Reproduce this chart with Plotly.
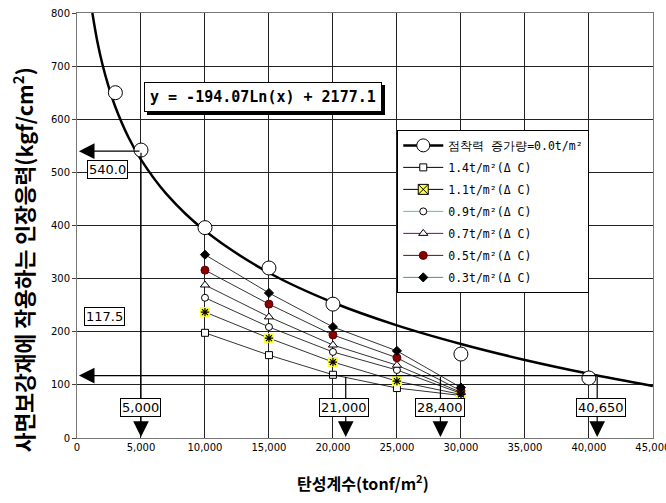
import plotly.graph_objects as go

# ---------------- data ----------------
x_series = [10000, 15000, 20000, 25000, 30000]
s14 = [198, 156, 119, 94, 80]
s11 = [237, 188, 143, 107, 82]
s09 = [264, 209, 162, 128, 84]
s07 = [288, 228, 175, 137, 86]
s05 = [316, 252, 194, 151, 89]
s03 = [345, 273, 209, 164, 95]

x0 = [3000, 5000, 10000, 15000, 20000, 30000, 40000]
y0 = [650, 542, 396, 320, 252, 158, 113]

# trendline
curve_x = [1200, 1600, 2000, 2500, 3000, 4000, 5000, 7000, 10000, 15000, 20000, 25000, 30000, 35000, 40000, 45000]
curve_y = [800, 745, 702, 659, 623, 567, 524, 459, 390, 311, 255, 212, 177, 147, 121, 98]

legend_names = ["점착력 증가량=0.0t/m²", "1.4t/m²(Δ C)", "1.1t/m²(Δ C)", "0.9t/m²(Δ C)",
                "0.7t/m²(Δ C)", "0.5t/m²(Δ C)", "0.3t/m²(Δ C)"]

eq_text = "y = -194.07Ln(x) + 2177.1"
pt_540 = 540.0
pt_1175 = 117.5
x_marks = [5000, 21000, 28400, 40650]
x_mark_labels = ["5,000", "21,000", "28,400", "40,650"]

x_ticks = list(range(0, 45001, 5000))
y_ticks = list(range(0, 801, 100))

fig = go.Figure()

# trend curve
fig.add_trace(go.Scatter(x=curve_x, y=curve_y, mode="lines", line=dict(color="black", width=2.5, shape="spline"),
                         showlegend=False, hoverinfo="skip"))

series = [
    (s14, dict(symbol="square", size=7, color="white", line=dict(color="black", width=1))),
    (s11, dict(symbol="square", size=10, color="#ffff33", line=dict(color="#ffff33", width=0))),
    (s09, dict(symbol="circle", size=7, color="white", line=dict(color="black", width=1))),
    (s07, dict(symbol="triangle-up", size=8, color="white", line=dict(color="black", width=1))),
    (s05, dict(symbol="circle", size=8, color="#8b0000", line=dict(color="#5a0000", width=1))),
    (s03, dict(symbol="diamond", size=7, color="black", line=dict(color="black", width=1))),
]
for ys, mk in series:
    fig.add_trace(go.Scatter(x=x_series, y=ys, mode="lines+markers", line=dict(color="black", width=0.8),
                             marker=mk, showlegend=False))
# asterisk on the yellow squares
fig.add_trace(go.Scatter(x=x_series, y=s11, mode="markers",
                         marker=dict(symbol="asterisk", size=7, color="black", line=dict(color="black", width=1.2)),
                         showlegend=False))

# 0.0 points
fig.add_trace(go.Scatter(x=x0, y=y0, mode="markers",
                         marker=dict(symbol="circle", size=14, color="white", line=dict(color="black", width=1)),
                         showlegend=False))

# legend entries
leg_styles = [
    (dict(color="black", width=2.5), dict(symbol="circle", size=13, color="white", line=dict(color="black", width=1))),
    (dict(color="black", width=1), dict(symbol="square", size=7, color="white", line=dict(color="black", width=1))),
    (dict(color="black", width=1), dict(symbol="square-x", size=10, color="#ffff33", line=dict(color="black", width=1))),
    (dict(color="#33cccc", width=1), dict(symbol="circle", size=7, color="white", line=dict(color="black", width=1))),
    (dict(color="#800080", width=1), dict(symbol="triangle-up", size=8, color="white", line=dict(color="black", width=1))),
    (dict(color="#800000", width=1), dict(symbol="circle", size=8, color="#8b0000", line=dict(color="#5a0000", width=1))),
    (dict(color="#339999", width=1), dict(symbol="diamond", size=7, color="black", line=dict(color="black", width=1))),
]
for i, (name, (ln, mk)) in enumerate(zip(legend_names, leg_styles)):
    fig.add_trace(go.Scatter(x=[None], y=[None], mode="lines+markers", name=name, line=ln, marker=mk,
                             legendgroup=f"g{i}"))

ann = []
# equation box with shadow
for shift, fc, bg in [((3, -3), "black", "black"), ((0, 0), "black", "white")]:
    ann.append(dict(x=14530, y=642, xref="x", yref="y", text="<b>" + eq_text + "</b>", showarrow=False,
                    font=dict(family="DejaVu Sans Mono", size=15, color=fc), bgcolor=bg,
                    bordercolor="black", borderwidth=1, borderpad=5, xshift=shift[0], yshift=shift[1]))

arrow_common = dict(xref="x", yref="y", axref="x", ayref="y", showarrow=True, arrowhead=2,
                    arrowsize=2.6, arrowwidth=1.2, arrowcolor="black", text="")
# horizontal arrows
ann.append(dict(x=150, y=pt_540, ax=x_marks[0], ay=pt_540, **arrow_common))
ann.append(dict(x=150, y=pt_1175, ax=x_marks[3], ay=pt_1175, **arrow_common))
# vertical arrows
ann.append(dict(x=x_marks[0], y=2, ax=x_marks[0], ay=pt_540, **arrow_common))
for xm in x_marks[1:]:
    ann.append(dict(x=xm, y=2, ax=xm, ay=pt_1175, **arrow_common))

box_common = dict(xref="x", yref="y", showarrow=False, font=dict(family="DejaVu Sans", size=13, color="black"),
                  bgcolor="white", bordercolor="black", borderwidth=1, borderpad=1)
ann.append(dict(x=2420, y=505, text="%.1f" % pt_540, **box_common))
ann.append(dict(x=2150, y=228, text="%.1f" % pt_1175, **box_common))
for xm, lbl, xc in zip(x_marks, x_mark_labels, [5000, 20860, 28360, 40940]):
    ann.append(dict(x=xc, y=58, text=lbl, **box_common))

# axis titles
ann.append(dict(xref="paper", yref="paper", x=-0.094, y=0.42, xanchor="center", yanchor="middle",
                textangle=-90, showarrow=False,
                text="<b>사면보강재에 작용하는 인장응력(kgf/cm<sup>2</sup>)</b>",
                font=dict(family="Noto Sans CJK KR", size=21.5, color="black")))
ann.append(dict(xref="paper", yref="paper", x=0.497, y=-0.104, xanchor="center", yanchor="middle",
                showarrow=False, text="<b>탄성계수(tonf/m<sup>2</sup>)</b>",
                font=dict(family="Noto Sans CJK KR", size=16, color="black")))

fig.update_layout(
    width=666, height=503,
    margin=dict(l=77, r=13, t=13, b=65, autoexpand=False),
    paper_bgcolor="white", plot_bgcolor="white",
    showlegend=True,
    legend=dict(x=0.556, y=0.725, xanchor="left", yanchor="top", bgcolor="white", bordercolor="black",
                borderwidth=1, font=dict(family="DejaVu Sans Mono", size=11.5, color="black"),
                itemwidth=40, traceorder="grouped", tracegroupgap=3),
    annotations=ann,
)
fig.update_xaxes(range=[0, 45010], tickvals=x_ticks, ticktext=[f"{v:,}" for v in x_ticks],
                 showgrid=True, gridcolor="#222", gridwidth=1, zeroline=False,
                 showline=True, linecolor="#777", linewidth=1, mirror=True, automargin=False,
                 ticks="", ticklabeloverflow="allow", tickfont=dict(family="DejaVu Sans", size=10, color="black"))
fig.update_yaxes(range=[0, 800], tickvals=y_ticks, showgrid=True, gridcolor="#222", gridwidth=1, zeroline=False,
                 showline=True, linecolor="#777", linewidth=1, mirror=True, automargin=False,
                 ticks="outside", ticklen=4, tickcolor="#444",
                 tickfont=dict(family="DejaVu Sans", size=10, color="black"))

# remove the page's default 8px body margin so the figure fills the window exactly
fig.write_html("out.html", config={"displayModeBar": False},
               post_script="document.body.style.margin='0';document.body.style.overflow='hidden';")
